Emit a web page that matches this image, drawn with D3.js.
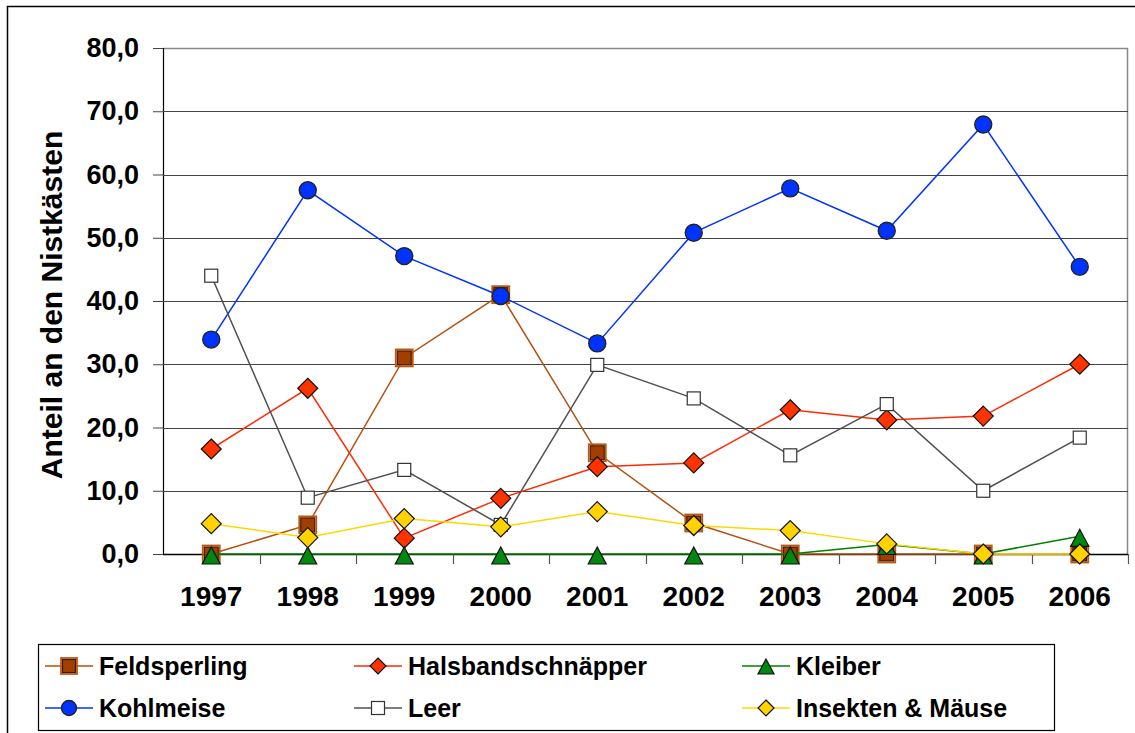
<!DOCTYPE html>
<html>
<head>
<meta charset="utf-8">
<script src="https://cdn.jsdelivr.net/npm/d3@7"></script>
<style>
  body { margin: 0; background: #fff; }
  svg { display: block; font-family: "Liberation Sans", Arial, sans-serif; }
</style>
</head>
<body>
<svg id="chart"></svg>
<script>
const years = ["1997", "1998", "1999", "2000", "2001", "2002", "2003", "2004", "2005", "2006"];
const yTicks = [0, 10, 20, 30, 40, 50, 60, 70, 80];

const feldsperling = [0.0, 4.6, 31.0, 41.0, 16.0, 4.9, 0.0, 0.0, 0.0, 0.0];
const halsband = [16.6, 26.2, 2.5, 8.8, 13.8, 14.4, 22.8, 21.2, 21.8, 30.0];
const kleiber = [0.0, 0.0, 0.0, 0.0, 0.0, 0.0, 0.0, 1.5, 0.0, 2.8];
const kohlmeise = [33.9, 57.5, 47.1, 40.8, 33.3, 50.8, 57.8, 51.1, 67.9, 45.4];
const leer = [44.0, 8.9, 13.3, 4.6, 29.9, 24.6, 15.6, 23.7, 10.0, 18.4];
const insekten = [4.8, 2.6, 5.6, 4.3, 6.7, 4.5, 3.7, 1.6, 0.0, 0.0];

const seriesNames = ["Feldsperling", "Halsbandschnäpper", "Kleiber", "Kohlmeise", "Leer", "Insekten & Mäuse"];

const series = [
  { name: seriesNames[0], values: feldsperling, line: "#b4500f", fill: "#a13f00", stroke: "#3a1500", shape: "square", size: 14 },
  { name: seriesNames[1], values: halsband, line: "#ff2a00", fill: "#ff3300", stroke: "#111", shape: "diamond", size: 20 },
  { name: seriesNames[2], values: kleiber, line: "#008000", fill: "#00880f", stroke: "#111", shape: "triangle", size: 18 },
  { name: seriesNames[3], values: kohlmeise, line: "#0033ff", fill: "#0033ff", stroke: "#222", shape: "circle", size: 18 },
  { name: seriesNames[4], values: leer, line: "#505050", fill: "#ffffff", stroke: "#333", shape: "square", size: 13 },
  { name: seriesNames[5], values: insekten, line: "#ffd700", fill: "#ffd200", stroke: "#111", shape: "diamond", size: 20 }
];

const W = 1135, H = 733;
const margin = { left: 163, top: 48, right: 7, bottom: 179 };
const plotW = W - margin.left - margin.right;
const plotH = H - margin.top - margin.bottom;

const svg = d3.select("#chart").attr("width", W).attr("height", H);

// outer frame
svg.append("rect")
  .attr("x", 7.5).attr("y", 6.5)
  .attr("width", 1140).attr("height", 760)
  .attr("fill", "none").attr("stroke", "#000").attr("stroke-width", 1.5);

const x = d3.scaleBand().domain(years).range([0, plotW]);
const y = d3.scaleLinear().domain([0, 80]).range([plotH, 0]);

const chart = svg.append("g")
  .attr("transform", `translate(${margin.left}, ${margin.top})`);

// plot border (top/right)
chart.append("path")
  .attr("d", `M0,0.5 H${plotW - 0.5} V${plotH}`)
  .attr("fill", "none").attr("stroke", "#888").attr("stroke-width", 1.5);

// y axis with gridlines
const yAxis = chart.append("g")
  .call(d3.axisLeft(y).tickValues(yTicks).tickSize(10).tickPadding(14)
    .tickFormat(d => d3.format(".1f")(d).replace(".", ",")));
yAxis.select(".domain").attr("stroke", "#000").attr("stroke-width", 1.2);
yAxis.selectAll(".tick line").attr("stroke", "#444");
yAxis.selectAll("text")
  .attr("fill", "#000").attr("font-size", 27).attr("font-weight", "bold")
  .attr("font-family", "Liberation Sans, Arial, sans-serif");

chart.append("g")
  .selectAll("line")
  .data(yTicks.filter(d => d > 0 && d < 80))
  .join("line")
  .attr("x1", 0).attr("x2", plotW)
  .attr("y1", d => Math.round(y(d)) + 0.5).attr("y2", d => Math.round(y(d)) + 0.5)
  .attr("stroke", "#444").attr("stroke-width", 1.2);

// x axis
const xAxis = chart.append("g")
  .attr("transform", `translate(0, ${plotH})`)
  .call(d3.axisBottom(x).tickSize(0).tickPadding(32));
xAxis.select(".domain").remove();
xAxis.selectAll("text")
  .attr("fill", "#000").attr("font-size", 28).attr("font-weight", "bold")
  .attr("font-family", "Liberation Sans, Arial, sans-serif");
chart.append("line")
  .attr("x1", 0).attr("x2", plotW)
  .attr("y1", plotH + 0.5).attr("y2", plotH + 0.5)
  .attr("stroke", "#000").attr("stroke-width", 1.5);
chart.append("g")
  .selectAll("line")
  .data(years.slice(1).concat(["end"]))
  .join("line")
  .attr("x1", (d, i) => Math.round(x.step() * (i + 1)) + 0.5)
  .attr("x2", (d, i) => Math.round(x.step() * (i + 1)) + 0.5)
  .attr("y1", plotH).attr("y2", plotH + 10)
  .attr("stroke", "#555").attr("stroke-width", 1.2);

// axis title
svg.append("text")
  .attr("transform", `translate(62, ${margin.top + plotH / 2 + 4}) rotate(-90)`)
  .attr("text-anchor", "middle")
  .attr("font-size", 30).attr("font-weight", "bold")
  .text("Anteil an den Nistkästen");

function drawMarker(g, s) {
  const r = s.size / 2;
  if (s.shape === "square") {
    g.append("rect").attr("x", -r).attr("y", -r).attr("width", s.size).attr("height", s.size)
      .attr("fill", s.fill).attr("stroke", s.stroke).attr("stroke-width", 1.2);
    if (s.name === "Feldsperling") {
      g.append("rect").attr("x", -r - 1.5).attr("y", -r - 1.5).attr("width", s.size + 3).attr("height", s.size + 3)
        .attr("fill", "none").attr("stroke", "#b85a12").attr("stroke-width", 1.8);
    }
  } else if (s.shape === "diamond") {
    g.append("path").attr("d", `M0,${-r} L${r},0 L0,${r} L${-r},0 Z`)
      .attr("fill", s.fill).attr("stroke", s.stroke).attr("stroke-width", 1.2);
  } else if (s.shape === "triangle") {
    g.append("path").attr("d", `M0,${-r} L${r},${r - 1} L${-r},${r - 1} Z`)
      .attr("fill", s.fill).attr("stroke", s.stroke).attr("stroke-width", 1.2);
  } else {
    g.append("circle").attr("r", r - 0.5)
      .attr("fill", s.fill).attr("stroke", s.stroke).attr("stroke-width", 1.4);
  }
}

const line = d3.line()
  .x((d, i) => x(years[i]) + x.bandwidth() / 2)
  .y(d => y(d));

series.forEach(s => {
  chart.append("path")
    .datum(s.values)
    .attr("d", line)
    .attr("fill", "none")
    .attr("stroke", s.line)
    .attr("stroke-width", 1.5);
  s.values.forEach((v, i) => {
    const g = chart.append("g")
      .attr("transform", `translate(${x(years[i]) + x.bandwidth() / 2}, ${y(v) + (s.shape === "triangle" ? 2 : 0)})`);
    drawMarker(g, s);
  });
});

// legend
const legend = svg.append("g");
legend.append("rect")
  .attr("x", 38.5).attr("y", 644.5).attr("width", 1016).attr("height", 86)
  .attr("fill", "#fff").attr("stroke", "#000").attr("stroke-width", 1.2);

const legendCols = [45, 354, 742];
const legendRows = [666, 708];
series.forEach((s, i) => {
  const cx = legendCols[i % 3], cy = legendRows[Math.floor(i / 3)];
  const g = legend.append("g").attr("transform", `translate(${cx}, ${cy})`);
  g.append("line").attr("x1", 0).attr("x2", 48).attr("y1", 0).attr("y2", 0)
    .attr("stroke", s.line).attr("stroke-width", 1.5);
  const m = g.append("g").attr("transform", `translate(24, ${s.shape === "triangle" ? 1 : 0})`);
  drawMarker(m, Object.assign({}, s, { size: s.shape === "square" ? 13 : 16 }));
  g.append("text").attr("x", 54).attr("y", 9)
    .attr("font-size", 25).attr("font-weight", "bold").attr("fill", "#000")
    .text(s.name);
});
</script>
</body>
</html>
